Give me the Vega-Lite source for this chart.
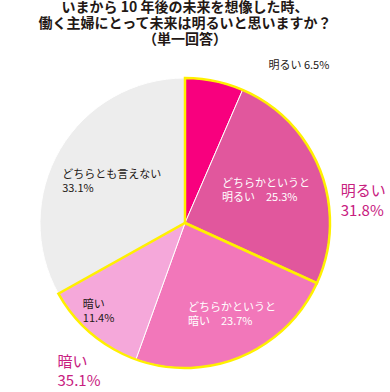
{
  "$schema": "https://vega.github.io/schema/vega-lite/v6.json",
  "autosize": {"type": "none"},
  "width": 290,
  "height": 290,
  "padding": {"left": 40, "top": 78, "right": 60, "bottom": 24},
  "background": "#ffffff",
  "config": {"view": {"stroke": null}, "font": "Noto Sans CJK JP"},
  "title": {
    "text": ["いまから 10 年後の未来を想像した時、", "働く主婦にとって未来は明るいと思いますか？", "（単一回答）"],
    "fontSize": 14,
    "fontWeight": "bold",
    "lineHeight": 16,
    "color": "#231815",
    "anchor": "middle",
    "frame": "group",
    "offset": 13,
    "font": "Noto Sans CJK JP"
  },
  "datasets": {
    "slices": [
      {"cat": "明るい", "value": 6.5, "ord": 1, "label": "明るい 6.5%"},
      {"cat": "どちらかというと明るい", "value": 25.3, "ord": 2, "label": "どちらかというと\n明るい　25.3%"},
      {"cat": "どちらかというと暗い", "value": 23.7, "ord": 3, "label": "どちらかというと\n暗い　23.7%"},
      {"cat": "暗い", "value": 11.4, "ord": 4, "label": "暗い\n11.4%"},
      {"cat": "どちらとも言えない", "value": 33.1, "ord": 5, "label": "どちらとも言えない\n33.1%"}
    ],
    "groups": [
      {"group": "明るい", "value": 31.8, "ord": 1, "label": "明るい\n31.8%"},
      {"group": "暗い", "value": 35.1, "ord": 2, "label": "暗い\n35.1%"},
      {"group": "どちらとも言えない", "value": 33.1, "ord": 3, "label": ""}
    ]
  },
  "layer": [
    {
      "data": {"name": "slices"},
      "mark": {"type": "arc", "stroke": "#ffffff", "strokeWidth": 1},
      "encoding": {
        "theta": {"field": "value", "type": "quantitative", "stack": true},
        "order": {"field": "ord", "type": "quantitative"},
        "color": {
          "field": "cat", "type": "nominal", "legend": null,
          "scale": {
            "domain": ["明るい", "どちらかというと明るい", "どちらかというと暗い", "暗い", "どちらとも言えない"],
            "range": ["#F8007E", "#E1579D", "#F277BA", "#F5A8DA", "#EDEDED"]
          }
        }
      }
    },
    {
      "data": {"name": "groups"},
      "mark": {"type": "arc", "fillOpacity": 0, "stroke": "#FFF000", "strokeWidth": 2.5},
      "encoding": {
        "theta": {"field": "value", "type": "quantitative", "stack": true},
        "order": {"field": "ord", "type": "quantitative"},
        "strokeOpacity": {"condition": {"test": "datum.group !== 'どちらとも言えない'", "value": 1}, "value": 0}
      }
    },
    {
      "data": {"name": "slices"},
      "mark": {"type": "text", "align": "left", "baseline": "middle", "fontSize": 11, "color": "#231815", "dx": 51, "dy": 0},
      "encoding": {
        "theta": {"field": "value", "type": "quantitative", "stack": true},
        "order": {"field": "ord", "type": "quantitative"},
        "radius": {"value": 160},
        "text": {"condition": {"test": "datum.ord === 1", "field": "label"}, "value": ""}
      }
    },
    {
      "data": {"name": "slices"},
      "mark": {"type": "text", "align": "left", "baseline": "middle", "fontSize": 11, "lineHeight": 13.5, "lineBreak": "\n", "color": "#ffffff", "dx": -19, "dy": -17},
      "encoding": {
        "theta": {"field": "value", "type": "quantitative", "stack": true},
        "order": {"field": "ord", "type": "quantitative"},
        "radius": {"value": 60},
        "text": {"condition": {"test": "datum.ord === 2", "field": "label"}, "value": ""}
      }
    },
    {
      "data": {"name": "slices"},
      "mark": {"type": "text", "align": "left", "baseline": "middle", "fontSize": 11, "lineHeight": 13.5, "lineBreak": "\n", "color": "#ffffff", "dx": -32, "dy": 2.5},
      "encoding": {
        "theta": {"field": "value", "type": "quantitative", "stack": true},
        "order": {"field": "ord", "type": "quantitative"},
        "radius": {"value": 90},
        "text": {"condition": {"test": "datum.ord === 3", "field": "label"}, "value": ""}
      }
    },
    {
      "data": {"name": "slices"},
      "mark": {"type": "text", "align": "left", "baseline": "middle", "fontSize": 11, "lineHeight": 13.5, "lineBreak": "\n", "color": "#231815", "dx": -31, "dy": -1.5},
      "encoding": {
        "theta": {"field": "value", "type": "quantitative", "stack": true},
        "order": {"field": "ord", "type": "quantitative"},
        "radius": {"value": 110},
        "text": {"condition": {"test": "datum.ord === 4", "field": "label"}, "value": ""}
      }
    },
    {
      "data": {"name": "slices"},
      "mark": {"type": "text", "align": "left", "baseline": "middle", "fontSize": 11, "lineHeight": 13.5, "lineBreak": "\n", "color": "#231815", "dx": -28, "dy": 8},
      "encoding": {
        "theta": {"field": "value", "type": "quantitative", "stack": true},
        "order": {"field": "ord", "type": "quantitative"},
        "radius": {"value": 110},
        "text": {"condition": {"test": "datum.ord === 5", "field": "label"}, "value": ""}
      }
    },
    {
      "data": {"name": "groups"},
      "mark": {"type": "text", "align": "left", "baseline": "middle", "fontSize": 15, "lineHeight": 20, "lineBreak": "\n", "color": "#C8207F", "dx": 17, "dy": 57},
      "encoding": {
        "theta": {"field": "value", "type": "quantitative", "stack": true},
        "order": {"field": "ord", "type": "quantitative"},
        "radius": {"value": 165},
        "text": {"condition": {"test": "datum.ord === 1", "field": "label"}, "value": ""}
      }
    },
    {
      "data": {"name": "groups"},
      "mark": {"type": "text", "align": "left", "baseline": "middle", "fontSize": 15, "lineHeight": 19, "lineBreak": "\n", "color": "#C8207F", "dx": -134, "dy": -21},
      "encoding": {
        "theta": {"field": "value", "type": "quantitative", "stack": true},
        "order": {"field": "ord", "type": "quantitative"},
        "radius": {"value": 160},
        "text": {"condition": {"test": "datum.ord === 2", "field": "label"}, "value": ""}
      }
    }
  ]
}
